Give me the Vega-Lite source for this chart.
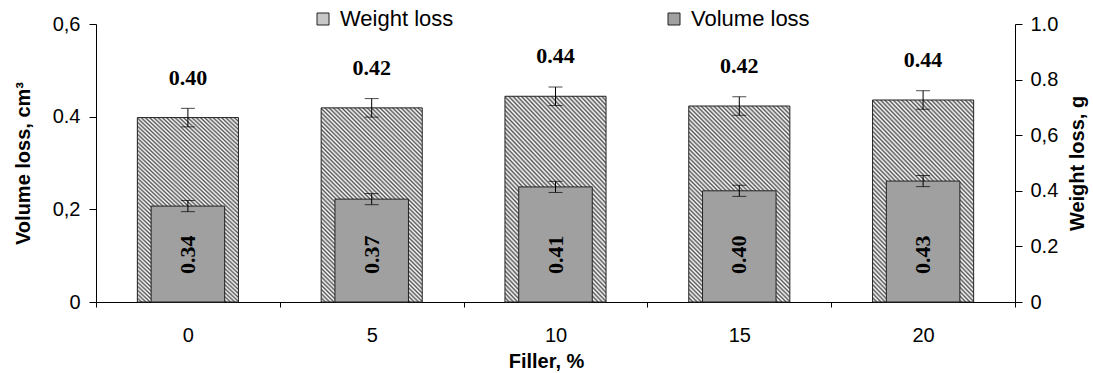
{
  "$schema": "https://vega.github.io/schema/vega-lite/v6.json",
  "autosize": "none",
  "width": 919,
  "height": 278,
  "padding": {"left": 96, "top": 24, "right": 78, "bottom": 71},
  "background": "white",
  "data": {
    "values": [
      {"filler": "0", "w": 0.398, "w_lo": 0.378, "w_hi": 0.418, "w_label": "0.40", "v": 0.345, "v_lo": 0.325, "v_hi": 0.365, "v_label": "0.34"},
      {"filler": "5", "w": 0.419, "w_lo": 0.399, "w_hi": 0.439, "w_label": "0.42", "v": 0.370, "v_lo": 0.350, "v_hi": 0.390, "v_label": "0.37"},
      {"filler": "10", "w": 0.444, "w_lo": 0.424, "w_hi": 0.464, "w_label": "0.44", "v": 0.414, "v_lo": 0.394, "v_hi": 0.434, "v_label": "0.41"},
      {"filler": "15", "w": 0.423, "w_lo": 0.403, "w_hi": 0.443, "w_label": "0.42", "v": 0.400, "v_lo": 0.380, "v_hi": 0.420, "v_label": "0.40"},
      {"filler": "20", "w": 0.436, "w_lo": 0.416, "w_hi": 0.456, "w_label": "0.44", "v": 0.435, "v_lo": 0.415, "v_hi": 0.455, "v_label": "0.43"}
    ]
  },
  "encoding": {
    "x": {
      "field": "filler",
      "type": "ordinal",
      "sort": ["0", "5", "10", "15", "20"],
      "scale": {"paddingInner": 0, "paddingOuter": 0},
      "title": "Filler, %",
      "axis": {
        "tickBand": "extent",
        "tickSize": 5,
        "labelPadding": 18,
        "labelAngle": 0,
        "labelFontSize": 20,
        "titleFontSize": 20,
        "titleFontWeight": "bold",
        "titlePadding": 6,
        "titleX": 450
      }
    }
  },
  "layer": [
    {
      "layer": [
        {
          "mark": {
            "type": "bar",
            "width": {"band": 0.55},
            "stroke": "#222222",
            "strokeWidth": 1,
            "fill": {
              "gradient": "linear",
              "x1": 0, "y1": 1, "x2": 0.62, "y2": -0.197,
              "stops": [
                {"offset": 0, "color": "#555555"}, {"offset": 0.00714, "color": "#ffffff"},
                {"offset": 0.01429, "color": "#555555"}, {"offset": 0.02143, "color": "#ffffff"},
                {"offset": 0.02857, "color": "#555555"}, {"offset": 0.03571, "color": "#ffffff"},
                {"offset": 0.04286, "color": "#555555"}, {"offset": 0.05, "color": "#ffffff"},
                {"offset": 0.05714, "color": "#555555"}, {"offset": 0.06429, "color": "#ffffff"},
                {"offset": 0.07143, "color": "#555555"}, {"offset": 0.07857, "color": "#ffffff"},
                {"offset": 0.08571, "color": "#555555"}, {"offset": 0.09286, "color": "#ffffff"},
                {"offset": 0.1, "color": "#555555"}, {"offset": 0.10714, "color": "#ffffff"},
                {"offset": 0.11429, "color": "#555555"}, {"offset": 0.12143, "color": "#ffffff"},
                {"offset": 0.12857, "color": "#555555"}, {"offset": 0.13571, "color": "#ffffff"},
                {"offset": 0.14286, "color": "#555555"}, {"offset": 0.15, "color": "#ffffff"},
                {"offset": 0.15714, "color": "#555555"}, {"offset": 0.16429, "color": "#ffffff"},
                {"offset": 0.17143, "color": "#555555"}, {"offset": 0.17857, "color": "#ffffff"},
                {"offset": 0.18571, "color": "#555555"}, {"offset": 0.19286, "color": "#ffffff"},
                {"offset": 0.2, "color": "#555555"}, {"offset": 0.20714, "color": "#ffffff"},
                {"offset": 0.21429, "color": "#555555"}, {"offset": 0.22143, "color": "#ffffff"},
                {"offset": 0.22857, "color": "#555555"}, {"offset": 0.23571, "color": "#ffffff"},
                {"offset": 0.24286, "color": "#555555"}, {"offset": 0.25, "color": "#ffffff"},
                {"offset": 0.25714, "color": "#555555"}, {"offset": 0.26429, "color": "#ffffff"},
                {"offset": 0.27143, "color": "#555555"}, {"offset": 0.27857, "color": "#ffffff"},
                {"offset": 0.28571, "color": "#555555"}, {"offset": 0.29286, "color": "#ffffff"},
                {"offset": 0.3, "color": "#555555"}, {"offset": 0.30714, "color": "#ffffff"},
                {"offset": 0.31429, "color": "#555555"}, {"offset": 0.32143, "color": "#ffffff"},
                {"offset": 0.32857, "color": "#555555"}, {"offset": 0.33571, "color": "#ffffff"},
                {"offset": 0.34286, "color": "#555555"}, {"offset": 0.35, "color": "#ffffff"},
                {"offset": 0.35714, "color": "#555555"}, {"offset": 0.36429, "color": "#ffffff"},
                {"offset": 0.37143, "color": "#555555"}, {"offset": 0.37857, "color": "#ffffff"},
                {"offset": 0.38571, "color": "#555555"}, {"offset": 0.39286, "color": "#ffffff"},
                {"offset": 0.4, "color": "#555555"}, {"offset": 0.40714, "color": "#ffffff"},
                {"offset": 0.41429, "color": "#555555"}, {"offset": 0.42143, "color": "#ffffff"},
                {"offset": 0.42857, "color": "#555555"}, {"offset": 0.43571, "color": "#ffffff"},
                {"offset": 0.44286, "color": "#555555"}, {"offset": 0.45, "color": "#ffffff"},
                {"offset": 0.45714, "color": "#555555"}, {"offset": 0.46429, "color": "#ffffff"},
                {"offset": 0.47143, "color": "#555555"}, {"offset": 0.47857, "color": "#ffffff"},
                {"offset": 0.48571, "color": "#555555"}, {"offset": 0.49286, "color": "#ffffff"},
                {"offset": 0.5, "color": "#555555"}, {"offset": 0.50714, "color": "#ffffff"},
                {"offset": 0.51429, "color": "#555555"}, {"offset": 0.52143, "color": "#ffffff"},
                {"offset": 0.52857, "color": "#555555"}, {"offset": 0.53571, "color": "#ffffff"},
                {"offset": 0.54286, "color": "#555555"}, {"offset": 0.55, "color": "#ffffff"},
                {"offset": 0.55714, "color": "#555555"}, {"offset": 0.56429, "color": "#ffffff"},
                {"offset": 0.57143, "color": "#555555"}, {"offset": 0.57857, "color": "#ffffff"},
                {"offset": 0.58571, "color": "#555555"}, {"offset": 0.59286, "color": "#ffffff"},
                {"offset": 0.6, "color": "#555555"}, {"offset": 0.60714, "color": "#ffffff"},
                {"offset": 0.61429, "color": "#555555"}, {"offset": 0.62143, "color": "#ffffff"},
                {"offset": 0.62857, "color": "#555555"}, {"offset": 0.63571, "color": "#ffffff"},
                {"offset": 0.64286, "color": "#555555"}, {"offset": 0.65, "color": "#ffffff"},
                {"offset": 0.65714, "color": "#555555"}, {"offset": 0.66429, "color": "#ffffff"},
                {"offset": 0.67143, "color": "#555555"}, {"offset": 0.67857, "color": "#ffffff"},
                {"offset": 0.68571, "color": "#555555"}, {"offset": 0.69286, "color": "#ffffff"},
                {"offset": 0.7, "color": "#555555"}, {"offset": 0.70714, "color": "#ffffff"},
                {"offset": 0.71429, "color": "#555555"}, {"offset": 0.72143, "color": "#ffffff"},
                {"offset": 0.72857, "color": "#555555"}, {"offset": 0.73571, "color": "#ffffff"},
                {"offset": 0.74286, "color": "#555555"}, {"offset": 0.75, "color": "#ffffff"},
                {"offset": 0.75714, "color": "#555555"}, {"offset": 0.76429, "color": "#ffffff"},
                {"offset": 0.77143, "color": "#555555"}, {"offset": 0.77857, "color": "#ffffff"},
                {"offset": 0.78571, "color": "#555555"}, {"offset": 0.79286, "color": "#ffffff"},
                {"offset": 0.8, "color": "#555555"}, {"offset": 0.80714, "color": "#ffffff"},
                {"offset": 0.81429, "color": "#555555"}, {"offset": 0.82143, "color": "#ffffff"},
                {"offset": 0.82857, "color": "#555555"}, {"offset": 0.83571, "color": "#ffffff"},
                {"offset": 0.84286, "color": "#555555"}, {"offset": 0.85, "color": "#ffffff"},
                {"offset": 0.85714, "color": "#555555"}, {"offset": 0.86429, "color": "#ffffff"},
                {"offset": 0.87143, "color": "#555555"}, {"offset": 0.87857, "color": "#ffffff"},
                {"offset": 0.88571, "color": "#555555"}, {"offset": 0.89286, "color": "#ffffff"},
                {"offset": 0.9, "color": "#555555"}, {"offset": 0.90714, "color": "#ffffff"},
                {"offset": 0.91429, "color": "#555555"}, {"offset": 0.92143, "color": "#ffffff"},
                {"offset": 0.92857, "color": "#555555"}, {"offset": 0.93571, "color": "#ffffff"},
                {"offset": 0.94286, "color": "#555555"}, {"offset": 0.95, "color": "#ffffff"},
                {"offset": 0.95714, "color": "#555555"}, {"offset": 0.96429, "color": "#ffffff"},
                {"offset": 0.97143, "color": "#555555"}, {"offset": 0.97857, "color": "#ffffff"},
                {"offset": 0.98571, "color": "#555555"}, {"offset": 0.99286, "color": "#ffffff"},
                {"offset": 1, "color": "#555555"}
              ]
            }
          },
          "encoding": {
            "y": {
              "field": "w",
              "type": "quantitative",
              "scale": {"domain": [0, 0.6], "nice": false, "zero": true},
              "title": "Volume loss, cm³",
              "axis": {
                "orient": "left",
                "values": [0, 0.2, 0.4, 0.6],
                "tickSize": 7,
                "labelPadding": 9,
                "labelFontSize": 20,
                "labelExpr": "datum.value == 0 ? '0' : datum.value < 0.3 ? '0,2' : datum.value < 0.5 ? '0.4' : '0,6'",
                "titleFontSize": 20,
                "titleFontWeight": "bold",
                "titlePadding": 19
              }
            }
          }
        },
        {
          "mark": {"type": "rule", "color": "black", "strokeWidth": 1},
          "encoding": {
            "y": {"field": "w_lo", "type": "quantitative"},
            "y2": {"field": "w_hi"}
          }
        },
        {
          "mark": {"type": "tick", "color": "black", "size": 14, "thickness": 1},
          "encoding": {"y": {"field": "w_lo", "type": "quantitative"}}
        },
        {
          "mark": {"type": "tick", "color": "black", "size": 14, "thickness": 1},
          "encoding": {"y": {"field": "w_hi", "type": "quantitative"}}
        },
        {
          "mark": {"type": "text", "font": "Liberation Serif", "fontWeight": "bold", "fontSize": 22, "baseline": "middle", "align": "center", "dy": -40, "color": "black"},
          "encoding": {
            "y": {"field": "w", "type": "quantitative"},
            "text": {"field": "w_label"}
          }
        }
      ]
    },
    {
      "layer": [
        {
          "mark": {"type": "bar", "width": {"band": 0.4}, "stroke": "#222222", "strokeWidth": 1},
          "encoding": {
            "y": {
              "field": "v",
              "type": "quantitative",
              "scale": {"domain": [0, 1], "nice": false},
              "title": "Weight loss, g",
              "axis": {
                "orient": "right",
                "values": [0, 0.2, 0.4, 0.6, 0.8, 1.0],
                "tickSize": 7,
                "labelPadding": 8,
                "labelFontSize": 20,
                "labelExpr": "datum.value == 0 ? '0' : (datum.value > 0.5 && datum.value < 0.7) ? '0,6' : format(datum.value, '.1f')",
                "titleFontSize": 20,
                "titleFontWeight": "bold",
                "titleAngle": 270,
                "titleBaseline": "top",
                "titlePadding": 10
              }
            },
            "color": {
              "datum": "Volume loss",
              "scale": {"domain": ["Weight loss", "Volume loss"], "range": ["#c8c8c8", "#a0a0a0"]},
              "legend": {
                "orient": "none",
                "legendX": 216,
                "legendY": -16,
                "direction": "horizontal",
                "title": null,
                "symbolType": "square",
                "symbolSize": 144,
                "symbolStrokeColor": "#222222",
                "symbolStrokeWidth": 1,
                "labelFontSize": 22,
                "labelOffset": 6,
                "columnPadding": 209,
                "padding": 0
              }
            }
          }
        },
        {
          "mark": {"type": "rule", "color": "black", "strokeWidth": 1},
          "encoding": {
            "y": {"field": "v_lo", "type": "quantitative"},
            "y2": {"field": "v_hi"}
          }
        },
        {
          "mark": {"type": "tick", "color": "black", "size": 14, "thickness": 1},
          "encoding": {"y": {"field": "v_lo", "type": "quantitative"}}
        },
        {
          "mark": {"type": "tick", "color": "black", "size": 14, "thickness": 1},
          "encoding": {"y": {"field": "v_hi", "type": "quantitative"}}
        },
        {
          "mark": {"type": "text", "font": "Liberation Serif", "fontWeight": "bold", "fontSize": 22, "baseline": "middle", "align": "center", "angle": 270, "color": "black"},
          "encoding": {
            "y": {"datum": 0.17, "type": "quantitative"},
            "text": {"field": "v_label"}
          }
        }
      ]
    }
  ],
  "resolve": {"scale": {"y": "independent"}},
  "config": {
    "font": "Liberation Sans",
    "view": {"stroke": null},
    "axis": {
      "grid": false,
      "domainColor": "#000000",
      "tickColor": "#000000",
      "labelColor": "#000000",
      "titleColor": "#000000",
      "labelFont": "Liberation Sans",
      "titleFont": "Liberation Sans"
    },
    "legend": {"labelColor": "#000000", "labelFont": "Liberation Sans"}
  }
}
